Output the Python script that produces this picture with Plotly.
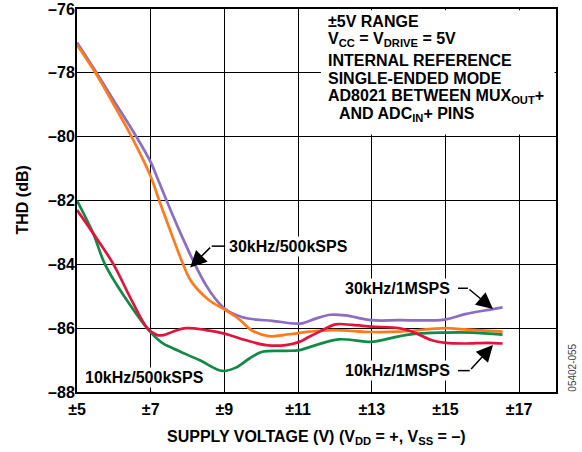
import plotly.graph_objects as go

# ---------------- data ----------------
x_ticks = [5, 7, 9, 11, 13, 15, 17]
x_ticktext = ["±5", "±7", "±9", "±11", "±13", "±15", "±17"]
y_ticks = [-88, -86, -84, -82, -80, -78, -76]
y_ticktext = ["–88", "–86", "–84", "–82", "–80", "–78", "–76"]

# 30kHz/1MSPS (purple)
x_30k_1m = [5.0, 5.53, 6.0, 6.61, 7.0, 7.2, 7.43, 7.8, 8.2, 8.5, 8.75, 9.02, 9.47, 9.86, 10.3,
            10.84, 11.1, 11.48, 11.88, 12.29, 12.99, 13.73, 14.97, 15.53, 16.25, 16.55]
y_30k_1m = [-77.05, -78.0, -78.87, -80.0, -80.8, -81.35, -82.0, -83.0, -84.0, -84.65, -85.07,
            -85.4, -85.65, -85.73, -85.77, -85.85, -85.85, -85.7, -85.58, -85.6, -85.75, -85.75,
            -85.73, -85.56, -85.41, -85.35]

# 30kHz/500kSPS (orange)
x_30k_500k = [5.0, 5.5, 6.0, 6.48, 7.0, 7.23, 7.55, 7.88, 8.11, 8.56, 9.02, 9.4, 9.76, 10.2,
              10.76, 11.3, 11.93, 13.0, 13.73, 15.0, 15.5, 16.55]
y_30k_500k = [-77.12, -78.0, -79.0, -80.0, -81.25, -82.0, -83.0, -84.0, -84.55, -85.1, -85.43,
              -85.72, -86.08, -86.25, -86.19, -86.11, -86.06, -86.12, -86.11, -86.0, -86.04,
              -86.11]

# 10kHz/1MSPS (red)
x_10k_1m = [5.0, 5.44, 5.99, 6.48, 6.91, 7.16, 7.35, 7.6, 7.96, 8.5, 9.0, 9.59, 10.13, 10.67,
            11.03, 11.3, 11.6, 12.02, 12.47, 13.0, 13.73, 14.1, 14.63, 15.0, 15.53, 16.16, 16.55]
y_10k_1m = [-82.3, -83.03, -84.0, -85.12, -86.0, -86.21, -86.22, -86.11, -86.0, -86.06, -86.17,
            -86.38, -86.53, -86.53, -86.43, -86.27, -86.1, -85.88, -85.9, -85.95, -86.0, -86.11,
            -86.38, -86.46, -86.48, -86.46, -86.48]

# 10kHz/500kSPS (green)
x_10k_500k = [5.0, 5.44, 5.76, 6.35, 6.98, 7.3, 7.6, 8.32, 8.95, 9.32, 9.68, 10.03, 10.67,
              11.03, 11.48, 12.1, 12.99, 13.37, 14.0, 14.99, 15.71, 16.55]
y_10k_500k = [-82.0, -83.03, -84.0, -85.12, -86.11, -86.45, -86.63, -87.0, -87.34, -87.23,
              -86.95, -86.74, -86.71, -86.69, -86.53, -86.35, -86.43, -86.35, -86.2, -86.14,
              -86.14, -86.2]

series = [
    ("30kHz/1MSPS", x_30k_1m, y_30k_1m, "#8B6DC1"),
    ("30kHz/500kSPS", x_30k_500k, y_30k_500k, "#FF7A1C"),
    ("10kHz/500kSPS", x_10k_500k, y_10k_500k, "#128A47"),
    ("10kHz/1MSPS", x_10k_1m, y_10k_1m, "#E2143C"),
]

box_lines = [
    "±5V RANGE",
    "V<sub>CC</sub> = V<sub>DRIVE</sub> = 5V",
    "INTERNAL REFERENCE",
    "SINGLE-ENDED MODE",
    "AD8021 BETWEEN MUX<sub>OUT</sub>+",
    "AND ADC<sub>IN</sub>+ PINS",
]

FONT = "Liberation Sans, Arial, sans-serif"

fig = go.Figure()
for name, xs, ys, col in series:
    fig.add_trace(go.Scatter(x=xs, y=ys, mode="lines", name=name,
                             line=dict(color=col, width=2.7, shape="spline", smoothing=1.0),
                             showlegend=False, hoverinfo="skip"))

# white box behind the condition text (hides grid)
fig.add_shape(type="rect", xref="x", yref="y", x0=11.62, x1=17.96, y0=-79.93, y1=-76.04,
              fillcolor="white", line=dict(width=0), layer="between")

# elbow segments of the callouts
for (xa, xb, yy) in [(8.655, 9.02, -83.43), (15.34, 15.61, -84.75), (15.34, 15.66, -87.33)]:
    fig.add_shape(type="line", xref="x", yref="y", x0=xa, x1=xb, y0=yy, y1=yy,
                  line=dict(color="black", width=1.5), layer="above")

ann_font = dict(family=FONT, size=16, color="black", weight="bold")

annotations = [
    dict(x=9.07, y=-83.43, xanchor="left", text="30kHz/500kSPS", showarrow=False, bgcolor="white"),
    dict(x=13.69, y=-84.75, text="30kHz/1MSPS", showarrow=False, bgcolor="white"),
    dict(x=13.69, y=-87.33, text="10kHz/1MSPS", showarrow=False, bgcolor="white"),
    dict(x=6.83, y=-87.56, text="10kHz/500kSPS", showarrow=False, bgcolor="white"),
    # arrows
    dict(x=8.07, y=-84.1, ax=8.655, ay=-83.43, axref="x", ayref="y", text="", showarrow=True,
         arrowhead=2, arrowsize=2.2, arrowwidth=1.5, arrowcolor="black"),
    dict(x=16.29, y=-85.40, ax=15.61, ay=-84.75, axref="x", ayref="y", text="", showarrow=True,
         arrowhead=2, arrowsize=2.2, arrowwidth=1.5, arrowcolor="black"),
    dict(x=16.29, y=-86.53, ax=15.66, ay=-87.33, axref="x", ayref="y", text="", showarrow=True,
         arrowhead=2, arrowsize=2.2, arrowwidth=1.5, arrowcolor="black"),
]
box_y = [-76.40, -76.97, -77.60, -78.17, -78.75, -79.32]
box_x = [11.76, 11.76, 11.76, 11.76, 11.76, 12.05]
for txt, bx, by in zip(box_lines, box_x, box_y):
    annotations.append(dict(x=bx, y=by, xanchor="left", yanchor="middle", text=txt,
                            showarrow=False))

for a in annotations:
    a.setdefault("xref", "x")
    a.setdefault("yref", "y")
    a["font"] = ann_font
    fig.add_annotation(**a)

# axis titles
fig.add_annotation(xref="paper", yref="paper", x=0.5, y=-0.12, xanchor="center", yanchor="middle",
                   text="SUPPLY VOLTAGE (V) (V<sub>DD</sub> = +, V<sub>SS</sub> = –)",
                   showarrow=False, font=ann_font)
fig.add_annotation(xref="paper", yref="paper", x=-0.1148, y=0.5, xanchor="center",
                   yanchor="middle", textangle=-90,
                   text="THD (dB)", showarrow=False, font=ann_font)
fig.add_annotation(xref="paper", yref="paper", x=1.035, y=0.063, xanchor="center",
                   yanchor="middle", textangle=-90,
                   text="05402-055", showarrow=False,
                   font=dict(family=FONT, size=10, color="#444444"))

axis_common = dict(showgrid=True, gridcolor="black", gridwidth=1.4, showline=True,
                   linecolor="black", linewidth=2, mirror=True, ticks="", zeroline=False,
                   tickfont=dict(family=FONT, size=16, color="black", weight="bold"))

fig.update_xaxes(range=[5, 18], tickvals=x_ticks, ticktext=x_ticktext, ticklabelstandoff=2,
                 **axis_common)
fig.update_yaxes(range=[-88, -76], tickvals=y_ticks, ticktext=y_ticktext, ticklabelstandoff=-3,
                 **axis_common)

fig.update_layout(width=582, height=452, margin=dict(l=77, r=26, t=9, b=60, autoexpand=False),
                  plot_bgcolor="white", paper_bgcolor="white",
                  font=dict(family=FONT, color="black"))

fig.write_html("out.html", config={"displayModeBar": False},
               post_script="document.body.style.margin='0';")
